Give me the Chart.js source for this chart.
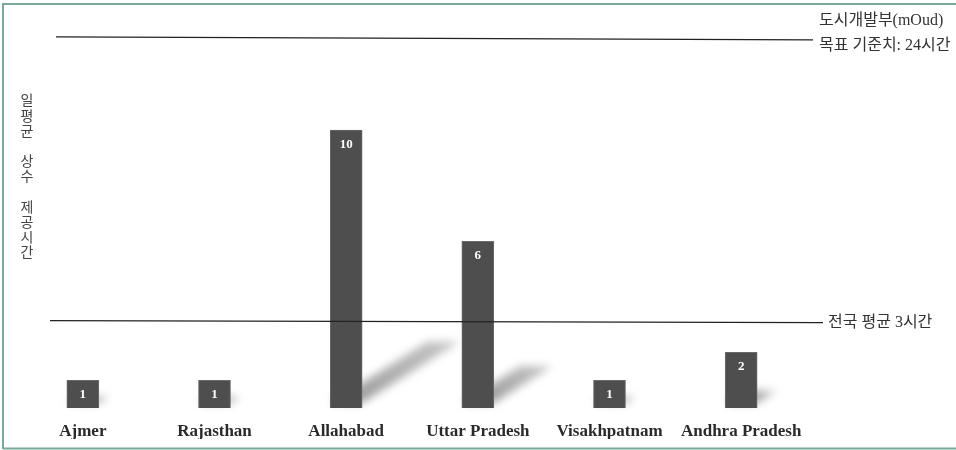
<!DOCTYPE html>
<html>
<head>
<meta charset="utf-8">
<script src="https://cdn.jsdelivr.net/npm/chart.js@4.4.0/dist/chart.umd.min.js"></script>
<style>
  html, body { margin: 0; padding: 0; background: #fff; }
  #wrap { position: relative; width: 956px; height: 450px; }
</style>
</head>
<body>
<div id="wrap"><canvas id="chart" width="956" height="450"></canvas></div>
<script>
const cities = ['Ajmer', 'Rajasthan', 'Allahabad', 'Uttar Pradesh', 'Visakhpatnam', 'Andhra Pradesh'];
const supplyHours = [1, 1, 10, 6, 1, 2];
const yTitleChars = ['일', '평', '균', '', '상', '수', '', '제', '공', '시', '간'];
const nationalAvg = 3;
const nationalAvgLabel = ['전국 평균 3시간'];
const targetLabel = ['도시개발부(mOud)', '목표 기준치: 24시간'];
// 24h target is far off the scale, so its line is drawn near the top of the plot
const targetLineAt = 13.3;

const serif = '"Liberation Serif", "Noto Sans CJK KR", serif';
const hangul = '"Noto Sans CJK KR", sans-serif';

const decor = {
  id: 'decor',
  beforeDraw(chart) {
    const ctx = chart.ctx;
    ctx.save();
    ctx.strokeStyle = '#78a99a';
    ctx.lineWidth = 2;
    ctx.beginPath();
    ctx.moveTo(3, 449);
    ctx.lineTo(3, 4);
    ctx.lineTo(956, 4);
    ctx.moveTo(3, 448.5);
    ctx.lineTo(956, 448.5);
    ctx.stroke();
    ctx.restore();
  },
  beforeDatasetsDraw(chart) {
    // blurred diagonal shadows cast by the bars
    const ctx = chart.ctx;
    const bars = chart.getDatasetMeta(0).data;
    ctx.save();
    ctx.filter = 'blur(4px)';
    bars.forEach(bar => {
      const h = bar.base - bar.y;
      const xl = bar.x - bar.width / 2, xr = bar.x + bar.width / 2;
      const b = bar.base - 5;
      const dx = h * 0.35, dy = h * 0.22;
      const g = ctx.createLinearGradient(xr, b, xr + dx, b - dy);
      g.addColorStop(0, 'rgba(150,150,150,0.9)');
      g.addColorStop(1, 'rgba(175,175,175,0.7)');
      ctx.fillStyle = g;
      ctx.beginPath();
      ctx.moveTo(xl, b);
      ctx.lineTo(xr, b);
      ctx.lineTo(xr + dx, b - dy);
      ctx.lineTo(xl + dx, b - dy);
      ctx.closePath();
      ctx.fill();
    });
    ctx.restore();
  },
  afterDatasetsDraw(chart) {
    const ctx = chart.ctx;
    const y = chart.scales.y;
    const area = chart.chartArea;
    const bars = chart.getDatasetMeta(0).data;
    ctx.save();

    // value labels inside bar tops
    ctx.fillStyle = '#ffffff';
    ctx.font = 'bold 13px ' + serif;
    ctx.textAlign = 'center';
    ctx.textBaseline = 'middle';
    bars.forEach((bar, i) => {
      ctx.fillText(String(supplyHours[i]), bar.x, bar.y + 14);
    });

    // reference lines
    ctx.strokeStyle = '#222';
    ctx.lineWidth = 1.2;
    const topY = y.getPixelForValue(targetLineAt);
    const topL = area.left + 39, topR = area.right + 6;
    ctx.beginPath();
    ctx.moveTo(topL, topY - 1.5);
    ctx.lineTo(topR, topY + 1.5);
    ctx.stroke();

    const avgY = y.getPixelForValue(nationalAvg);
    const avgL = area.left + 33, avgR = area.right + 16;
    ctx.beginPath();
    ctx.moveTo(avgL, avgY - 4);
    ctx.lineTo(avgR, avgY - 2);
    ctx.stroke();

    ctx.fillStyle = '#333';
    ctx.font = '16px ' + serif;
    ctx.textAlign = 'left';
    ctx.textBaseline = 'middle';
    ctx.fillText(targetLabel[0], topR + 6, topY - 18);
    ctx.fillText(targetLabel[1], topR + 6, topY + 7);
    ctx.fillText(nationalAvgLabel[0], avgR + 5, avgY - 2);

    // stacked vertical axis title
    ctx.fillStyle = '#444';
    ctx.font = '14px ' + hangul;
    ctx.textAlign = 'center';
    yTitleChars.forEach((c, i) => {
      ctx.fillText(c, 27, 100 + i * 15.2);
    });
    ctx.restore();
  }
};

new Chart(document.getElementById('chart'), {
  type: 'bar',
  data: {
    labels: cities,
    datasets: [{
      data: supplyHours,
      backgroundColor: '#4e4e4e',
      borderColor: '#6a6a6a',
      borderWidth: 1,
      barThickness: 32,
    }],
  },
  options: {
    responsive: false,
    animation: false,
    devicePixelRatio: 1,
    layout: { padding: { left: 17, right: 149, top: 19, bottom: 11 } },
    scales: {
      x: {
        grid: { display: false, drawTicks: false },
        border: { display: false },
        afterFit(scale) { scale.height = 31; },
        ticks: {
          padding: 13,
          color: '#2a2a2a',
          font: { family: serif, size: 17, weight: 'bold' },
          maxRotation: 0,
          autoSkip: false,
        },
      },
      y: {
        display: false,
        min: 0,
        max: 14,
      },
    },
    plugins: {
      legend: { display: false },
      tooltip: { enabled: false },
    },
  },
  plugins: [decor],
});
</script>
</body>
</html>
